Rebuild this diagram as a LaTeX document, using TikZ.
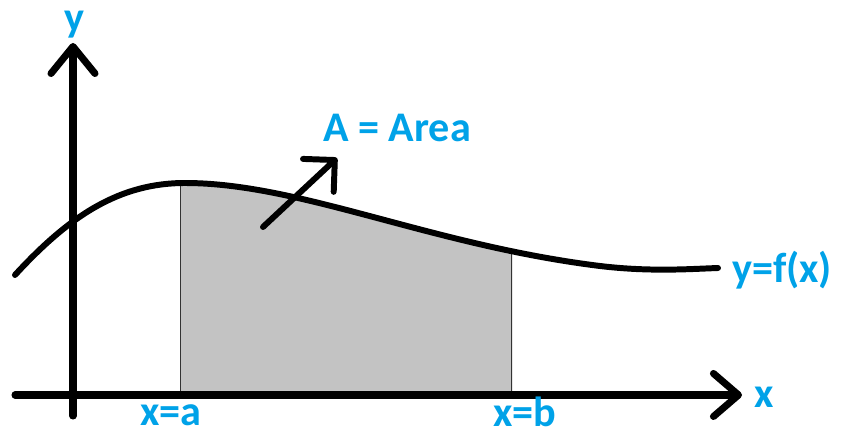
\documentclass[tikz,border=0pt]{standalone}
\usepackage{fontspec}
\setmainfont{Carlito}
\usetikzlibrary{arrows.meta}

\begin{document}
\begin{tikzpicture}[x=0.02cm, y=-0.02cm]
    \definecolor{labelColour}{HTML}{00A2E8}
    \definecolor{fillColour}{HTML}{C3C3C3}

    \def\fcurve{(15,275) .. controls (70,215) and (120,183) .. (185,183)
        .. controls (300,183) and (430,245) .. (600,266)
        .. controls (650,272) and (690,269) .. (718,268)}

    \tikzset{
        axis/.style={line width=4pt, line cap=round},
        curve/.style={line width=3.4pt, line cap=round},
        lbl/.style={text=labelColour, font=\fontsize{24}{26}\selectfont\bfseries, inner sep=0pt}
    }

    \useasboundingbox (0,0) rectangle (846,435);

    % Define coordinates for axes
    \coordinate (xstart) at (15,395);
    \coordinate (xend) at (742,395);
    \coordinate (ystart) at (73,416);
    \coordinate (yend) at (73,43);

    % Shaded area between x=a and x=b
    \begin{scope}
        \clip (180,0) rectangle (512,395);
        \clip \fcurve -- (718,395) -- (15,395) -- cycle;
        \fill[fillColour] (180,0) rectangle (512,395);
        \draw[line width=0.8pt, black!80] (180,0) -- (180,395);
        \draw[line width=0.8pt, black!80] (512,0) -- (512,395);
    \end{scope}

    % Draw curve y=f(x)
    \draw[curve] \fcurve;

    % Draw axes
    \draw[axis, -{Straight Barb[length=5mm, width=8.6mm, round]}] (xstart) -- (xend);
    \draw[axis, -{Straight Barb[length=5.4mm, width=8.8mm, round]}] (ystart) -- (yend);

    % Arrow pointing to the area
    \coordinate (tail) at (263,227);
    \coordinate (tip) at (337,158);
    \draw[curve, -{Straight Barb[length=4.5mm, width=9mm, round]}] (tail) -- (tip);

    % Labels
    \node[lbl] (ylab) at (74,25) {y};
    \node[lbl] (xlab) at (764,397) {x};
    \node[lbl] (arealab) at (397,128) {A = Area};
    \node[lbl] (flab) at (782,270) {y=f(x)};
    \node[lbl] (alab) at (171,415) {x=a};
    \node[lbl] (blab) at (525,412) {x=b};

\end{tikzpicture}
\end{document}
